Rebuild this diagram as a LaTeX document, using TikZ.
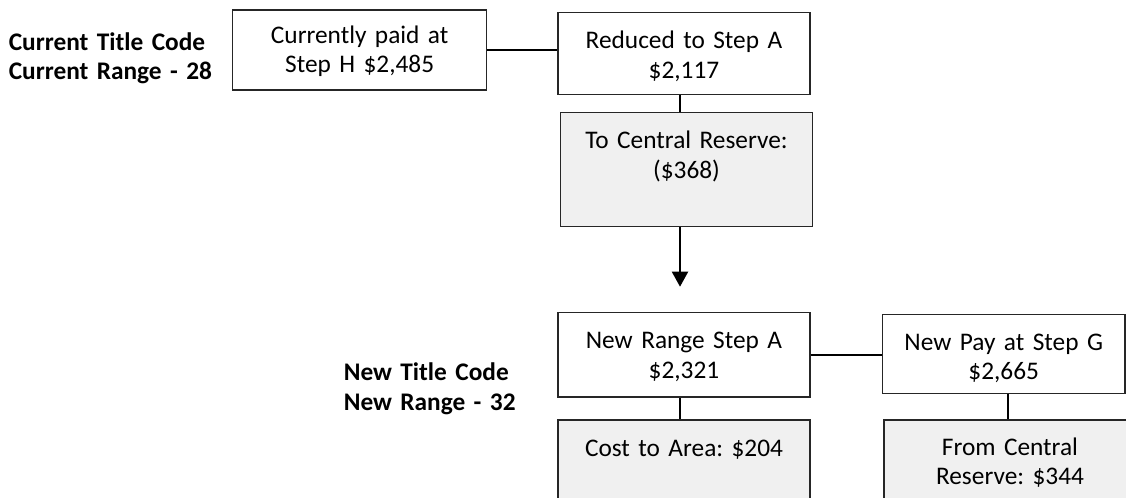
\documentclass[tikz,border=0pt]{standalone}
\usepackage{fontspec}
\setmainfont{Carlito}
\usetikzlibrary{arrows.meta}
\frenchspacing

\definecolor{boxline}{RGB}{38,38,38}
\definecolor{reservefill}{RGB}{240,240,240}

\tikzset{every picture/.style={line width=0.75pt}}
\tikzset{
  flowbox/.style={draw=boxline, line width=1pt, fill=white, anchor=north west,
    inner sep=0pt, text width=189pt, align=center, text height=27.4pt, text depth=34pt,
    font=\fontsize{19}{22}\selectfont},
  reservebox/.style={flowbox, fill=reservefill, text depth=58pt},
  rangelabel/.style={anchor=base west, inner sep=0pt, text width=170pt, align=left,
    font=\fontsize{19}{22}\selectfont\bfseries},
  link/.style={draw=black, line width=1.5pt},
  flowarrow/.style={link, -{Triangle[length=11.25pt,width=12pt]}}
}

\begin{document}
\begin{tikzpicture}[x=0.75pt,y=0.75pt,yscale=-1,xscale=1]
	\useasboundingbox (0,0) rectangle (1126,497);

	% Text Node
	\node[rangelabel] (oldcode) at (8.3,50) {Current Title Code\\Current Range - 28};
	% Text Node
	\node[rangelabel] (newcode) at (343.3,380.7) {New Title Code\\New Range - 32};

	%Shape: Rectangle
	\node[flowbox, text width=190.5pt, text height=25pt, text depth=35pt] (paid) at (232,9.3) {Currently paid at\\Step H \$2,485};
	%Shape: Rectangle
	\node[flowbox] (reduced) at (557.3,11.7) {Reduced to Step A\\\$2,117};
	%Shape: Rectangle
	\node[reservebox, text width=188.8pt] (toreserve) at (560,111.7) {To Central Reserve:\\(\$368)};
	%Shape: Rectangle
	\node[flowbox, text depth=36pt] (newrange) at (557.3,311.7) {New Range Step A\\\$2,321};
	%Shape: Rectangle
	\node[flowbox, text width=182pt, text height=26.9pt, text depth=32pt] (newpay) at (881.7,314) {New Pay at Step G\\\$2,665};
	%Shape: Rectangle
	\node[reservebox, text depth=55pt] (costarea) at (557.3,419.3) {Cost to Area: \$204};
	%Shape: Rectangle
	\node[reservebox, text height=26.6pt, text depth=55pt] (fromreserve) at (883.3,419.3) {From Central\\Reserve: \$344};

	\coordinate (spine) at (680,0);
	\coordinate (newspine) at (1008.3,0);
	\coordinate (arrowtip) at (680,286.7);

	%Straight Lines
	\draw[link] (paid.east) -- (paid.east -| reduced.west);
	\draw[link] (reduced.south -| spine) -- (toreserve.north -| spine);
	\draw[flowarrow] (toreserve.south -| spine) -- (arrowtip);
	\draw[link] (newrange.east) -- (newrange.east -| newpay.west);
	\draw[link] (newrange.south -| spine) -- (costarea.north -| spine);
	\draw[link] (newpay.south -| newspine) -- (fromreserve.north -| newspine);

\end{tikzpicture}
\end{document}
